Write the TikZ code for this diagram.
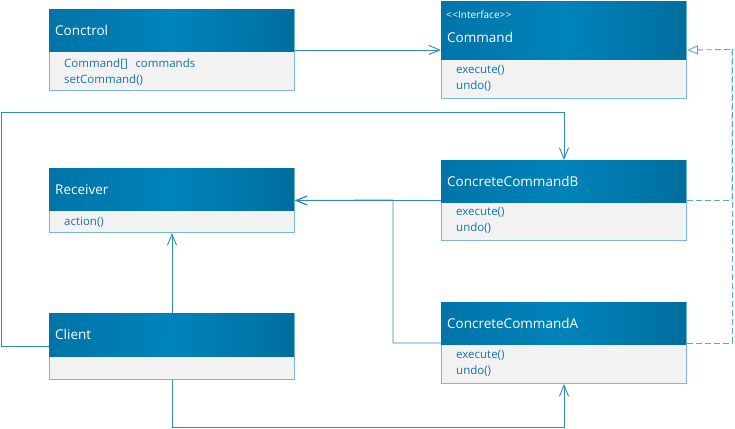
\documentclass[tikz,border=0pt]{standalone}
\usepackage{fontspec}
\setmainfont{Open Sans}
\usetikzlibrary{arrows.meta}

\definecolor{hdrside}{HTML}{0074A8}
\definecolor{hdrmid}{HTML}{0083BA}
\definecolor{hdrend}{HTML}{006E9E}
\definecolor{opsfill}{HTML}{F2F2F2}
\definecolor{rim}{HTML}{7AB8D8}
\definecolor{optext}{HTML}{1672AA}
\definecolor{wire}{HTML}{2F88BE}
\definecolor{dashwire}{HTML}{5CA6CF}

\tikzset{
  cls/.style={draw=rim, line width=1pt, fill=opsfill, minimum width=245, inner sep=0, anchor=north west},
  hdr/.style={left color=hdrside, right color=hdrend, middle color=hdrmid, text=white,
    minimum width=245, text width=233, inner xsep=6, inner ysep=0, align=left,
    anchor=north west, font=\fontsize{13.5}{15}\selectfont},
  ops/.style={text=optext, text width=215, inner xsep=15, inner ysep=0, align=left,
    anchor=north west, font=\fontsize{11.5}{16}\selectfont},
  assoc/.style={draw=wire, line width=0.9pt, -{Straight Barb[length=11pt,width=9pt]}},
  realize/.style={draw=dashwire, line width=0.9pt, dash pattern=on 6pt off 3pt,
    -{Triangle[open,fill=white,length=11pt,width=9pt]}}
}

\begin{document}
\begin{tikzpicture}[x=1pt,y=-1pt]
  \useasboundingbox (0,0) rectangle (735,428);

  % classes
  \node[cls, minimum height=81] (ctrl) at (49,9) {};
  \node[hdr, minimum height=42] (ctrl-h) at (ctrl.north west) {Conctrol};
  \node[ops] (ctrl-o) at ([yshift=-7]ctrl-h.south west) {Command[]\ \ commands\\setCommand()};

  \node[cls, minimum height=97] (cmd) at (441,1) {};
  \node[hdr, minimum height=58] (cmd-h) at (cmd.north west) {};
  \node[anchor=west, text=white, inner sep=0, font=\fontsize{10}{11}\selectfont] (cmd-st) at (446,15) {<\kern0.5pt<Interface>\kern0.5pt>};
  \node[anchor=west, text=white, inner sep=0, font=\fontsize{13.5}{15}\selectfont] (cmd-n) at (447,37) {Command};
  \node[ops] (cmd-o) at ([yshift=-6]cmd-h.south west) {execute()\\undo()};

  \node[cls, minimum height=64] (rcv) at (49,168) {};
  \node[hdr, minimum height=42] (rcv-h) at (rcv.north west) {Receiver};
  \node[ops] (rcv-o) at ([yshift=-6]rcv-h.south west) {action()};

  \node[cls, minimum height=80] (ccb) at (441,160) {};
  \node[hdr, minimum height=42] (ccb-h) at (ccb.north west) {ConcreteCommandB};
  \node[ops] (ccb-o) at ([yshift=-5]ccb-h.south west) {execute()\\undo()};

  \node[cls, minimum height=66] (cli) at (49,313) {};
  \node[hdr, minimum height=43] (cli-h) at (cli.north west) {Client};

  \node[cls, minimum height=81] (cca) at (441,302) {};
  \node[hdr, minimum height=42] (cca-h) at (cca.north west) {ConcreteCommandA};
  \node[ops] (cca-o) at ([yshift=-6]cca-h.south west) {execute()\\undo()};

  % helper points
  \coordinate (top) at (1,112);
  \coordinate (join) at (393,200);
  \coordinate (rside) at (732,49.5);

  % connectors
  \draw[assoc] (ctrl.east) -- (cmd.west);
  \draw[assoc] (cli.west) -| (top) -| (ccb.north);
  \draw[assoc] (ccb.west) -- (rcv.east);
  \draw[assoc] (cca.west) -| (join) -- (rcv.east);
  \draw[assoc] (cli.north) -- (rcv.south);
  \draw[assoc] (cli.south) -- ++(0,47) -| (cca.south);
  \draw[realize] (ccb.east) -| (rside) -- (cmd.east);
  \draw[draw=dashwire, line width=0.9pt, dash pattern=on 6pt off 3pt] (cca.east) -| (rside);
\end{tikzpicture}
\end{document}
